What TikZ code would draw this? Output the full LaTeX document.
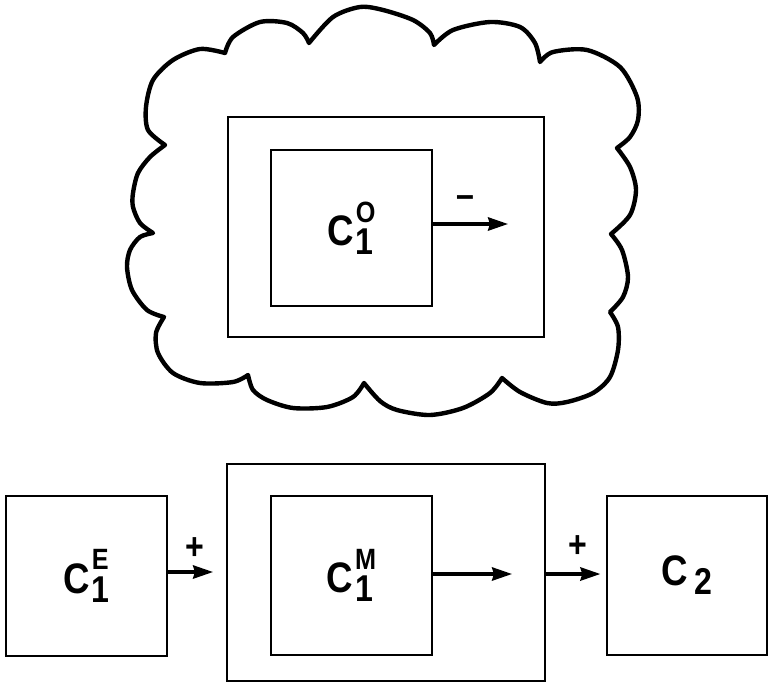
\documentclass[tikz,border=0pt]{standalone}
\usepackage{fontspec}
\setmainfont{Liberation Sans}[FakeStretch=0.86]
\usetikzlibrary{arrows.meta}
\newsavebox\supbox
\newsavebox\subbox
\newcommand{\clab}[3]{%
  \sbox\supbox{\fontsize{22}{22}\selectfont #2}%
  \sbox\subbox{\fontsize{28}{28}\selectfont #3}%
  \fontsize{32}{32}\selectfont #1\kern1.5pt%
  \ifdim\wd\supbox>\wd\subbox
    \rlap{\raisebox{-6.75pt}{\usebox\subbox}}\raisebox{17.5pt}{\usebox\supbox}%
  \else
    \rlap{\raisebox{17.5pt}{\usebox\supbox}}\raisebox{-6.75pt}{\usebox\subbox}%
  \fi}
\begin{document}
\begin{tikzpicture}[x=0.75pt,y=-0.75pt,
  box/.style={draw, line width=2.2pt, inner sep=0pt, outer sep=0pt, font=\bfseries},
  arr/.style={line width=2.3pt, -{Stealth[length=15pt,width=10pt,inset=1.5pt]}},
  cloudline/.style={line width=3.3pt, line join=round, line cap=round},
  sign/.style={font=\bfseries\fontsize{28}{28}\selectfont, inner sep=0pt}]
\useasboundingbox (0,0) rectangle (770,682);

% cloud
\draw[cloudline]
  plot[smooth] coordinates {(225,53) (233,37) (260,22) (287,23) (303,33) (309,43)}
  -- plot[smooth] coordinates {(309,43) (333,17) (360,7) (383,10) (413,20) (430,33) (434,45)}
  -- plot[smooth] coordinates {(434,45) (453,30) (490,22) (520,27) (535,43) (540,62)}
  -- plot[smooth] coordinates {(540,62) (553,52) (587,50) (620,67) (637,97) (638,120) (630,137) (617,148)}
  -- plot[smooth] coordinates {(617,148) (630,167) (636,190) (630,215) (611,234)}
  -- plot[smooth] coordinates {(611,234) (622,250) (628,277) (623,297) (610,312)}
  -- plot[smooth] coordinates {(610,312) (618,327) (618,350) (610,377) (593,393) (567,402) (547,403) (520,392) (502,378)}
  -- plot[smooth] coordinates {(502,378) (490,393) (463,408) (430,415) (397,410) (380,401) (364,383)}
  -- plot[smooth] coordinates {(364,383) (353,397) (327,407) (293,408) (267,400) (253,390) (248,375)}
  -- plot[smooth] coordinates {(248,375) (233,382) (200,383) (173,373) (158,353) (156,333) (164,317)}
  -- plot[smooth] coordinates {(164,317) (147,310) (132,290) (127,267) (130,250) (140,237) (153,233)}
  -- plot[smooth] coordinates {(153,233) (140,223) (133,207) (133,193) (138,173) (150,157) (165,145)}
  -- plot[smooth] coordinates {(165,145) (148,130) (146,107) (153,80) (173,60) (200,49) (225,53)};

% top boxes
\node[box, minimum width=237pt, minimum height=165pt] (To) at (386,227) {};
\node[box, minimum width=120.75pt, minimum height=117pt] (O1) at (351.5,228) {\clab{C}{O}{1}};
\coordinate (aT) at (508,224);
\draw[arr] (O1.east |- aT) -- (aT);
\node[sign] (mT) at (465,202) {–};

% bottom boxes
\node[box, minimum width=120.75pt, minimum height=120pt] (E1) at (86.5,576) {\clab{C}{E}{1}};
\node[box, minimum width=238.5pt, minimum height=162.75pt] (Mo) at (386,572.5) {};
\node[box, minimum width=120.75pt, minimum height=119.25pt] (M1) at (351.5,575.5) {\clab{C}{M}{1}};
\node[box, minimum width=120pt, minimum height=119.25pt] (C2) at (687,575.5)
  {\fontsize{32}{32}\selectfont C\kern5pt\raisebox{-6.75pt}{\fontsize{28}{28}\selectfont 2}};

\draw[arr, shorten >=10.5pt] ([yshift=3pt]E1.east) -- ([yshift=3pt]E1.east -| Mo.west);
\coordinate (aM) at (512,574);
\draw[arr] (M1.east |- aM) -- (aM);
\draw[arr, shorten >=5pt] (Mo.east |- aM) -- (C2.west |- aM);
\node[sign] (pE) at (195,549) {+};
\node[sign] (pC) at (578,547) {+};
\end{tikzpicture}
\end{document}
